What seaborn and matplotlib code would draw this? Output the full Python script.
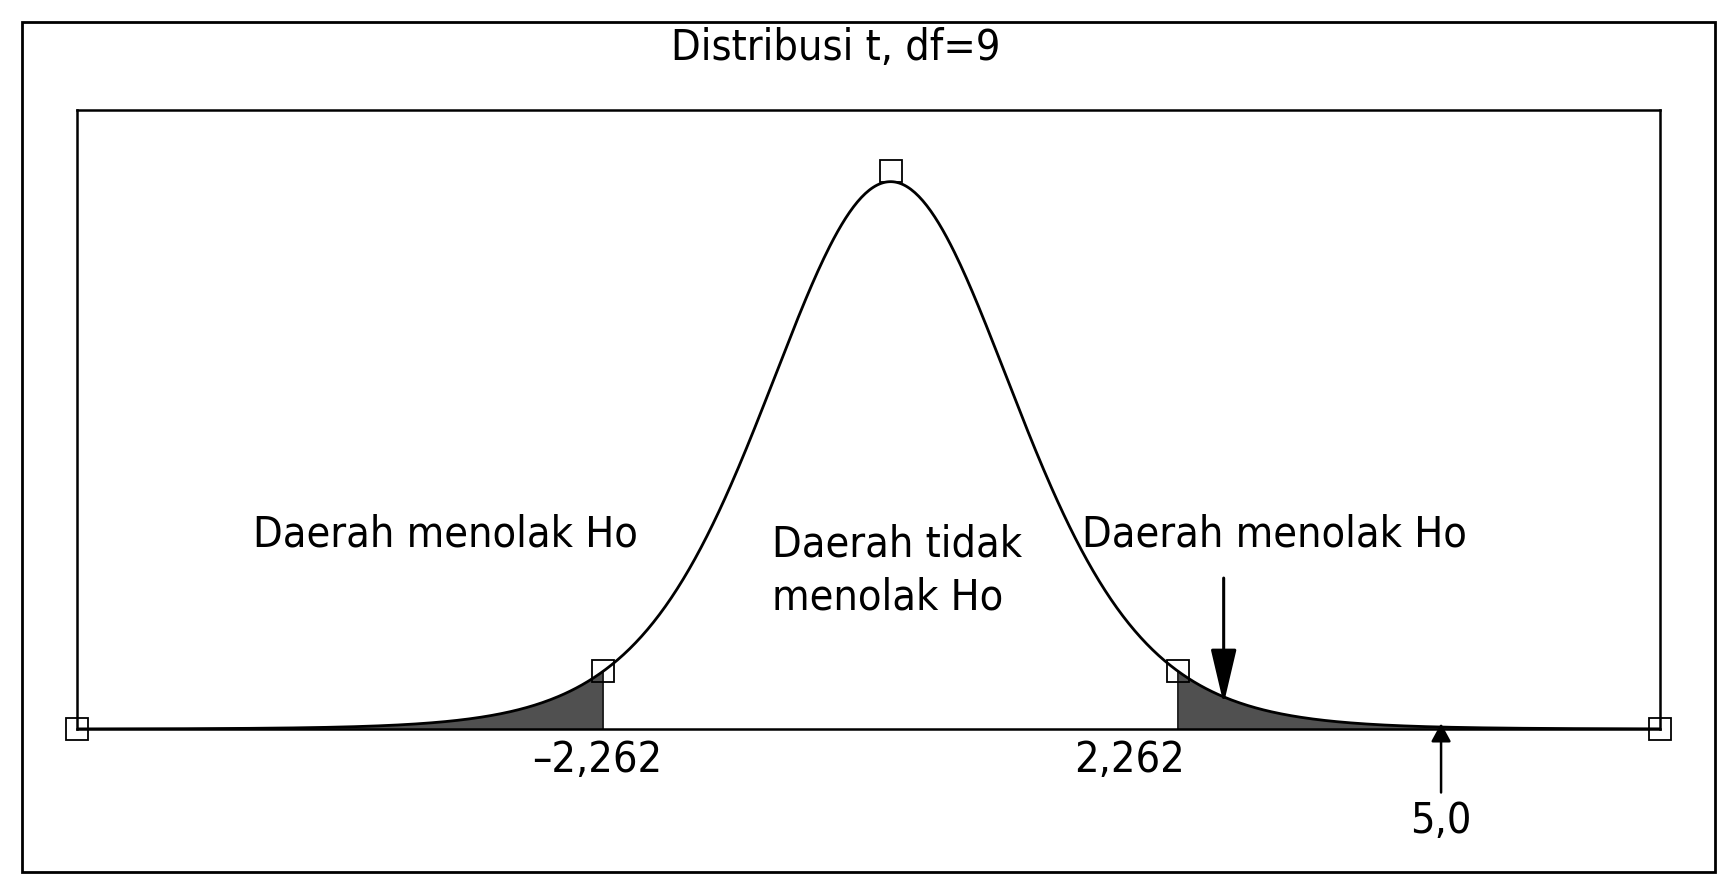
import math
import numpy as np
import pandas as pd
import seaborn as sns
import matplotlib
matplotlib.use("Agg")
import matplotlib.pyplot as plt
from matplotlib.patches import Rectangle
from matplotlib.transforms import ScaledTranslation
from matplotlib import font_manager

# ---- data ----
title_text = "Distribusi t, df=9"
degrees_freedom = 9
t_critical = 2.262
x_range = [-6.4, 6.05]          # ends of the drawn curve
stat_arrow_x = 4.33            # position of the "5,0" arrow as drawn
stat_label = "5,0"
crit_labels = ["\u20132,262", "2,262"]
crit_label_x = [-2.31, 1.88]
region_texts = ["Daerah menolak Ho", "Daerah tidak\nmenolak Ho", "Daerah menolak Ho"]
region_x = [-3.50, -0.93, 3.02]
region_y = [0.138, 0.112, 0.138]
reject_arrow_x = 2.62
reject_arrow_y = [0.107, 0.0177]


def t_pdf(x, v):
    c = math.gamma((v + 1) / 2) / (math.sqrt(v * math.pi) * math.gamma(v / 2))
    return c * (1 + x ** 2 / v) ** (-(v + 1) / 2)


xs = np.linspace(x_range[0], x_range[1], 800)
curve = pd.DataFrame({"t": xs, "density": t_pdf(xs, degrees_freedom)})

# ---- style ----
sns.set_theme(style="white")
plt.rcParams["font.family"] = ["DejaVu Sans"]
plt.rcParams["font.stretch"] = "condensed"
plt.rcParams["text.color"] = "black"

fp = font_manager.FontProperties(family="DejaVu Sans", stretch="condensed")
fs = 31

fig = plt.figure(figsize=(17.26, 8.91), dpi=100)
ax = fig.add_axes([0.0446, 0.1818, 0.917, 0.695])

sns.lineplot(data=curve, x="t", y="density", ax=ax, color="black", lw=2.0)

left_tail = curve[curve["t"] <= -t_critical]
right_tail = curve[curve["t"] >= t_critical]
ax.fill_between(left_tail["t"], 0, left_tail["density"], color="#505050", lw=0)
ax.fill_between(right_tail["t"], 0, right_tail["density"], color="#505050", lw=0)
ax.vlines([-t_critical, t_critical], 0, t_pdf(t_critical, degrees_freedom), color="black", lw=1.2)

ax.set_xlim(x_range)
ax.set_ylim(0, 0.439)
ax.set_xticks([])
ax.set_yticks([])
ax.set_xlabel("")
ax.set_ylabel("")
for s in ax.spines.values():
    s.set_color("black")
    s.set_linewidth(1.8)

# markers
mk = dict(marker="s", ms=16, mfc="none", mec="black", mew=1.3, ls="none", clip_on=False)
ax.plot([x_range[0], x_range[1]], [0, 0], **mk)
ax.plot([-t_critical, t_critical], [t_pdf(t_critical, degrees_freedom)] * 2, **mk)
peak_tr = ax.transData + ScaledTranslation(0, 8 / 72, fig.dpi_scale_trans)
ax.plot([0], [t_pdf(0, degrees_freedom)], transform=peak_tr, **mk)

for txt, x, y in zip(region_texts, region_x, region_y):
    ha = "left" if "\n" in txt else "center"
    ax.text(x, y, txt, ha=ha, va="center", fontproperties=fp, fontsize=fs,
            linespacing=1.35, color="black")

for txt, x in zip(crit_labels, crit_label_x):
    ax.text(x, -0.022, txt, ha="center", va="center", fontproperties=fp, fontsize=fs,
            clip_on=False, color="black")

ax.annotate("", xy=(reject_arrow_x, reject_arrow_y[1]), xytext=(reject_arrow_x, reject_arrow_y[0]),
            arrowprops=dict(arrowstyle="-|>,head_length=1.7,head_width=0.4", mutation_scale=20,
                            color="black", lw=2.2, shrinkA=0, shrinkB=0))
ax.annotate("", xy=(stat_arrow_x, 0.004), xytext=(stat_arrow_x, -0.045),
            arrowprops=dict(arrowstyle="-|>,head_length=0.55,head_width=0.3", mutation_scale=20,
                            color="black", lw=1.8, shrinkA=0, shrinkB=0),
            annotation_clip=False)
ax.text(stat_arrow_x, -0.0655, stat_label, ha="center", va="center", fontproperties=fp,
        fontsize=fs, clip_on=False, color="black")

# outer frame and title
fig.add_artist(Rectangle((0.0127, 0.021), 0.981, 0.954, transform=fig.transFigure,
                         fill=False, lw=2, ec="black"))
fig.text(0.484, 0.946, title_text, ha="center", va="center", fontproperties=fp,
         fontsize=fs, color="black")

fig.savefig("out.png", dpi=100, facecolor="white")
